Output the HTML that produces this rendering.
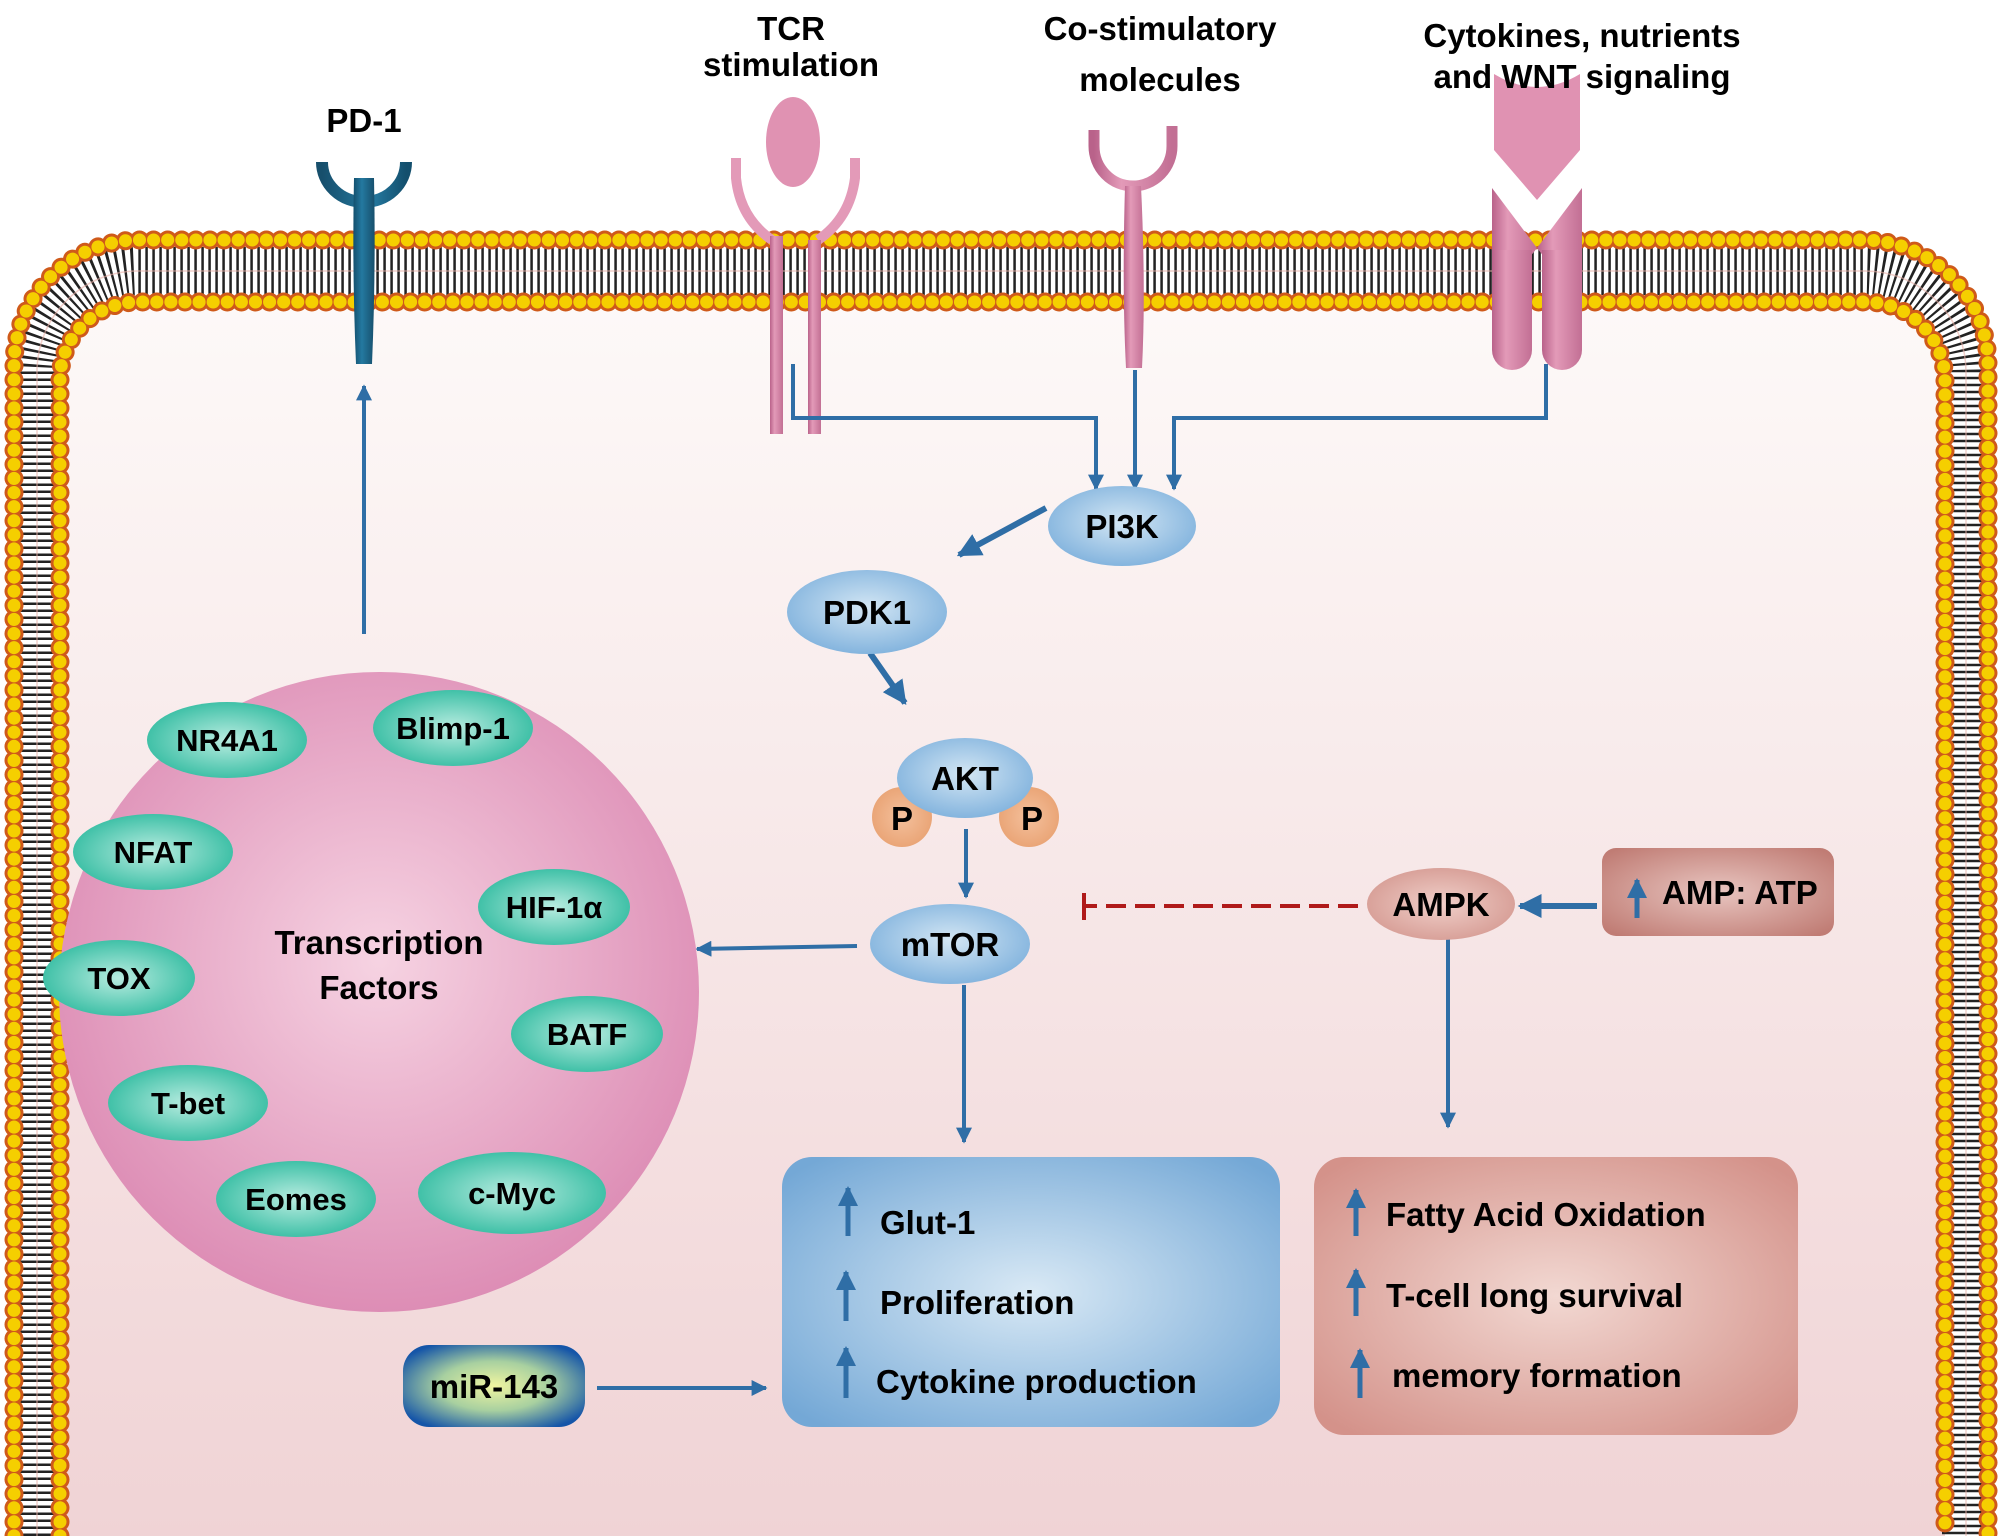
<!DOCTYPE html>
<html><head><meta charset="utf-8"><style>
html,body{margin:0;padding:0;background:#fff}
svg{display:block}
text{font-family:"Liberation Sans",Arial,sans-serif;font-weight:bold;fill:#000}
</style></head><body>
<svg width="2000" height="1536" viewBox="0 0 2000 1536" xmlns="http://www.w3.org/2000/svg">
<defs>
<linearGradient id="bg" x1="0" y1="0" x2="0" y2="1">
<stop offset="0" stop-color="#fdf9f8"/><stop offset="1" stop-color="#f0d3d5"/></linearGradient>
<radialGradient id="blue" cx="0.5" cy="0.45" r="0.6"><stop offset="0" stop-color="#d3e6f4"/><stop offset="1" stop-color="#7db0dc"/></radialGradient>
<radialGradient id="teal" cx="0.5" cy="0.5" r="0.6"><stop offset="0" stop-color="#b8ece0"/><stop offset="1" stop-color="#28b89c"/></radialGradient>
<radialGradient id="pink" cx="0.5" cy="0.45" r="0.55"><stop offset="0" stop-color="#f6d3e2"/><stop offset="1" stop-color="#dd8db5"/></radialGradient>
<radialGradient id="bbox" cx="0.5" cy="0.5" r="0.65"><stop offset="0" stop-color="#d9e9f5"/><stop offset="1" stop-color="#74a8d6"/></radialGradient>
<radialGradient id="rbox" cx="0.5" cy="0.5" r="0.65"><stop offset="0" stop-color="#f2d8d2"/><stop offset="1" stop-color="#d4928a"/></radialGradient>
<radialGradient id="ampk" cx="0.5" cy="0.5" r="0.6"><stop offset="0" stop-color="#f0cfc9"/><stop offset="1" stop-color="#d49890"/></radialGradient>
<radialGradient id="atp" cx="0.5" cy="0.5" r="0.65"><stop offset="0" stop-color="#e8c5c0"/><stop offset="1" stop-color="#c07c74"/></radialGradient>
<radialGradient id="mir" cx="0.5" cy="0.5" r="0.6"><stop offset="0" stop-color="#f0f5a0"/><stop offset="0.5" stop-color="#a8d0a0"/><stop offset="1" stop-color="#1555a8"/></radialGradient>
<radialGradient id="pcol" cx="0.5" cy="0.5" r="0.6"><stop offset="0" stop-color="#f4c09c"/><stop offset="1" stop-color="#e8a070"/></radialGradient>
<linearGradient id="rec" x1="0" y1="0" x2="1" y2="0"><stop offset="0" stop-color="#b9628a"/><stop offset="0.35" stop-color="#e39ab8"/><stop offset="1" stop-color="#c26f94"/></linearGradient>
<linearGradient id="pd" x1="0" y1="0" x2="1" y2="0"><stop offset="0" stop-color="#134f6d"/><stop offset="0.4" stop-color="#2479a0"/><stop offset="1" stop-color="#174f6c"/></linearGradient>
<marker id="ar" viewBox="0 0 10 10" refX="9" refY="5" markerWidth="4" markerHeight="4" orient="auto-start-reverse"><path d="M0,0 L10,5 L0,10 z" fill="#2f6ea6"/></marker>
</defs>

<!-- interior -->
<path d="M60,1536 L60,380 A78,78 0 0 1 138,302 L1866,302 A79,79 0 0 1 1945,381 L1945,1536 Z" fill="url(#bg)"/>
<!-- membrane tails -->
<path d="M37,1536 L37,368 A101,101 0 0 1 138,271 L1865,271 A101,101 0 0 1 1966,372 L1966,1536" fill="none" stroke="#222" stroke-width="48" stroke-dasharray="2.5 4.5"/>
<path d="M37,1536 L37,368 A101,101 0 0 1 138,271 L1865,271 A101,101 0 0 1 1966,372 L1966,1536" fill="none" stroke="#e9b0a8" stroke-width="1.5" opacity="0.6"/>
<!-- heads -->
<g fill="none" stroke-linecap="round">
<path d="M14,1536 L14,365 A125,125 0 0 1 139,240 L1863,240 A125,125 0 0 1 1988,365 L1988,1536" stroke="#cf5a1a" stroke-width="19" stroke-dasharray="0.1 14"/>
<path d="M14,1536 L14,365 A125,125 0 0 1 139,240 L1863,240 A125,125 0 0 1 1988,365 L1988,1536" stroke="#f5cf00" stroke-width="13" stroke-dasharray="0.1 14"/>
<path d="M60,1536 L60,380 A78,78 0 0 1 138,302 L1866,302 A79,79 0 0 1 1945,381 L1945,1536" stroke="#cf5a1a" stroke-width="19" stroke-dasharray="0.1 14"/>
<path d="M60,1536 L60,380 A78,78 0 0 1 138,302 L1866,302 A79,79 0 0 1 1945,381 L1945,1536" stroke="#f5cf00" stroke-width="13" stroke-dasharray="0.1 14"/>
</g>

<!-- PD-1 -->
<path d="M322,138 A42,40 0 0 1 406,138" fill="none" stroke="url(#pd)" stroke-width="12" transform="rotate(180 364 150)"/>
<path d="M354,178 Q352,270 356,364 L372,364 Q376,270 374,178 Z" fill="url(#pd)"/>
<text x="364" y="132" font-size="33" text-anchor="middle">PD-1</text>

<!-- TCR -->
<ellipse cx="793" cy="142" rx="27" ry="45" fill="#e092b2"/>
<path d="M736,158 L736,178 Q740,218 772,240" fill="none" stroke="#e39ab8" stroke-width="10"/>
<path d="M855,158 L855,178 Q850,218 818,240" fill="none" stroke="#e39ab8" stroke-width="10"/>
<rect x="770" y="236" width="13" height="198" fill="url(#rec)"/>
<rect x="808" y="240" width="13" height="194" fill="url(#rec)"/>
<text x="791" y="40" font-size="33" text-anchor="middle">TCR</text>
<text x="791" y="76" font-size="33" text-anchor="middle">stimulation</text>

<!-- Co-stim -->
<path d="M1094,130 L1094,146 A39,40 0 0 0 1172,146 L1172,126" fill="none" stroke="url(#rec)" stroke-width="11"/>
<path d="M1125,186 Q1122,290 1126,368 L1142,368 Q1146,290 1141,186 Z" fill="url(#rec)"/>
<text x="1160" y="40" font-size="33" text-anchor="middle">Co-stimulatory</text>
<text x="1160" y="91" font-size="33" text-anchor="middle">molecules</text>

<!-- Cytokine receptor -->
<path d="M1494,74 Q1537,100 1580,74 L1580,150 L1537,200 L1494,150 Z" fill="#e092b2"/>
<path d="M1492,188 L1537,248 L1492,305 Z" fill="url(#rec)"/>
<path d="M1582,188 L1537,248 L1582,305 Z" fill="url(#rec)"/>
<rect x="1492" y="260" width="40" height="110" rx="20" fill="url(#rec)"/>
<rect x="1542" y="260" width="40" height="110" rx="20" fill="url(#rec)"/>
<rect x="1492" y="250" width="40" height="40" fill="url(#rec)"/>
<rect x="1542" y="250" width="40" height="40" fill="url(#rec)"/>
<text x="1582" y="47" font-size="33" text-anchor="middle">Cytokines, nutrients</text>
<text x="1582" y="88" font-size="33" text-anchor="middle">and WNT signaling</text>

<!-- connectors -->
<g stroke="#2f6ea6" stroke-width="4" fill="none">
<path d="M793,364 L793,418 L1096,418 L1096,489" marker-end="url(#ar)"/>
<path d="M1135,370 L1135,489" marker-end="url(#ar)"/>
<path d="M1546,364 L1546,418 L1174,418 L1174,489" marker-end="url(#ar)"/>
<path d="M1046,508 L959,555" stroke-width="6" marker-end="url(#ar)"/>
<path d="M870,653 L905,703" stroke-width="6" marker-end="url(#ar)"/>
<path d="M966,829 L966,897" marker-end="url(#ar)"/>
<path d="M857,946 L697,949" marker-end="url(#ar)"/>
<path d="M364,634 L364,386" marker-end="url(#ar)"/>
<path d="M964,985 L964,1142" marker-end="url(#ar)"/>
<path d="M1448,931 L1448,1127" marker-end="url(#ar)"/>
<path d="M1597,906 L1520,906" stroke-width="6" marker-end="url(#ar)"/>
<path d="M597,1388 L766,1388" marker-end="url(#ar)"/>
</g>
<path d="M1358,906 L1086,906" stroke="#b01a1a" stroke-width="4" stroke-dasharray="20 9"/>
<path d="M1084,893 L1084,920" stroke="#b01a1a" stroke-width="4"/>

<!-- nodes -->
<ellipse cx="1122" cy="526" rx="74" ry="40" fill="url(#blue)"/>
<text x="1122" y="538" font-size="33" text-anchor="middle">PI3K</text>
<ellipse cx="867" cy="612" rx="80" ry="42" fill="url(#blue)"/>
<text x="867" y="624" font-size="33" text-anchor="middle">PDK1</text>
<circle cx="902" cy="817" r="30" fill="url(#pcol)"/>
<circle cx="1029" cy="817" r="30" fill="url(#pcol)"/>
<text x="902" y="830" font-size="33" text-anchor="middle">P</text>
<text x="1032" y="830" font-size="33" text-anchor="middle">P</text>
<ellipse cx="965" cy="778" rx="68" ry="40" fill="url(#blue)"/>
<text x="965" y="790" font-size="33" text-anchor="middle">AKT</text>
<ellipse cx="950" cy="944" rx="80" ry="40" fill="url(#blue)"/>
<text x="950" y="956" font-size="33" text-anchor="middle">mTOR</text>
<ellipse cx="1441" cy="904" rx="74" ry="36" fill="url(#ampk)"/>
<text x="1441" y="916" font-size="33" text-anchor="middle">AMPK</text>
<rect x="1602" y="848" width="232" height="88" rx="14" fill="url(#atp)"/>
<path d="M1637,918 L1637,880" stroke="#2f6ea6" stroke-width="5" marker-end="url(#ar)"/>
<text x="1662" y="904" font-size="33">AMP: ATP</text>

<!-- TF circle -->
<circle cx="379" cy="992" r="320" fill="url(#pink)"/>
<text x="379" y="954" font-size="33" text-anchor="middle">Transcription</text>
<text x="379" y="999" font-size="33" text-anchor="middle">Factors</text>
<g font-size="31">
<ellipse cx="227" cy="740" rx="80" ry="38" fill="url(#teal)"/><text x="227" y="751" text-anchor="middle" font-size="31">NR4A1</text>
<ellipse cx="453" cy="728" rx="80" ry="38" fill="url(#teal)"/><text x="453" y="739" text-anchor="middle" font-size="31">Blimp-1</text>
<ellipse cx="153" cy="852" rx="80" ry="38" fill="url(#teal)"/><text x="153" y="863" text-anchor="middle" font-size="31">NFAT</text>
<ellipse cx="554" cy="907" rx="76" ry="38" fill="url(#teal)"/><text x="554" y="918" text-anchor="middle" font-size="31">HIF-1α</text>
<ellipse cx="119" cy="978" rx="76" ry="38" fill="url(#teal)"/><text x="119" y="989" text-anchor="middle" font-size="31">TOX</text>
<ellipse cx="587" cy="1034" rx="76" ry="38" fill="url(#teal)"/><text x="587" y="1045" text-anchor="middle" font-size="31">BATF</text>
<ellipse cx="188" cy="1103" rx="80" ry="38" fill="url(#teal)"/><text x="188" y="1114" text-anchor="middle" font-size="31">T-bet</text>
<ellipse cx="296" cy="1199" rx="80" ry="38" fill="url(#teal)"/><text x="296" y="1210" text-anchor="middle" font-size="31">Eomes</text>
<ellipse cx="512" cy="1193" rx="94" ry="41" fill="url(#teal)"/><text x="512" y="1204" text-anchor="middle" font-size="31">c-Myc</text>
</g>

<!-- blue box -->
<rect x="782" y="1157" width="498" height="270" rx="30" fill="url(#bbox)"/>
<g stroke="#2f6ea6" stroke-width="5" fill="none">
<path d="M848,1236 L848,1188" marker-end="url(#ar)"/>
<path d="M846,1321 L846,1272" marker-end="url(#ar)"/>
<path d="M846,1398 L846,1348" marker-end="url(#ar)"/>
</g>
<text x="880" y="1234" font-size="33">Glut-1</text>
<text x="880" y="1314" font-size="33">Proliferation</text>
<text x="876" y="1393" font-size="33">Cytokine production</text>

<!-- brown box -->
<rect x="1314" y="1157" width="484" height="278" rx="30" fill="url(#rbox)"/>
<g stroke="#2f6ea6" stroke-width="5" fill="none">
<path d="M1356,1236 L1356,1190" marker-end="url(#ar)"/>
<path d="M1356,1316 L1356,1270" marker-end="url(#ar)"/>
<path d="M1360,1398 L1360,1350" marker-end="url(#ar)"/>
</g>
<text x="1386" y="1226" font-size="33">Fatty Acid Oxidation</text>
<text x="1386" y="1307" font-size="33">T-cell long survival</text>
<text x="1392" y="1387" font-size="33">memory formation</text>

<!-- miR-143 -->
<rect x="403" y="1345" width="182" height="82" rx="26" fill="url(#mir)"/>
<text x="494" y="1398" font-size="33" text-anchor="middle">miR-143</text>
</svg>
</body></html>
